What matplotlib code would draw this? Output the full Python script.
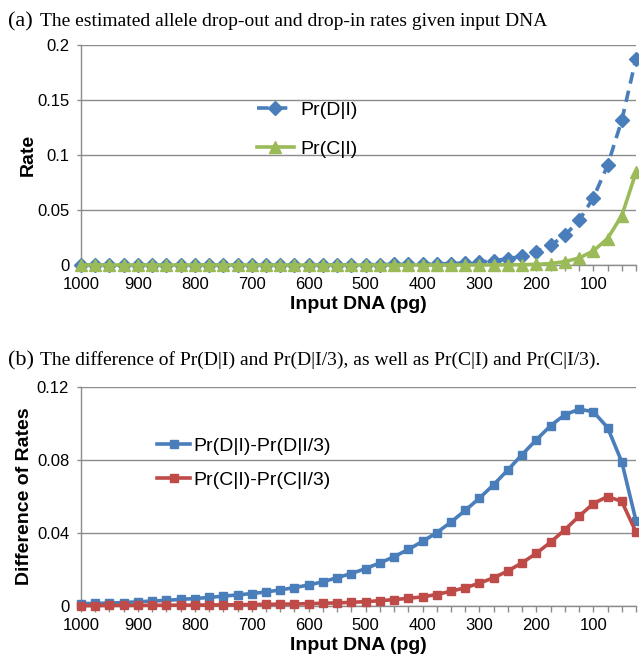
import matplotlib
matplotlib.use("Agg")
import matplotlib.pyplot as plt

plt.rcParams['font.family'] = ['Liberation Sans', 'DejaVu Sans']

input_dna = [1000, 975, 950, 925, 900, 875, 850, 825, 800, 775,
             750, 725, 700, 675, 650, 625, 600, 575, 550, 525,
             500, 475, 450, 425, 400, 375, 350, 325, 300, 275,
             250, 225, 200, 175, 150, 125, 100, 75, 50, 25]

pr_d = [0, 0, 0, 0, 0, 0, 0, 0, 0, 0,
        0, 0, 0, 0, 0.0001, 0.0001, 0.0001, 0.0001, 0.0002, 0.0002,
        0.0003, 0.0004, 0.0005, 0.0006, 0.0008, 0.001, 0.0013, 0.0018, 0.0025, 0.004,
        0.0056, 0.008, 0.0122, 0.0178, 0.027, 0.0405, 0.061, 0.0905, 0.1315, 0.1877]

pr_c = [0, 0, 0, 0, 0, 0, 0, 0, 0, 0,
        0, 0, 0, 0, 0, 0, 0, 0, 0, 0,
        0, 0, 0, 0, 0, 0, 0, 0, 0, 0.0001,
        0.0002, 0.0003, 0.0006, 0.0013, 0.0031, 0.0063, 0.0128, 0.0240, 0.0448, 0.0842]

diff_d = [0.0013, 0.0014, 0.0016, 0.0019, 0.0023, 0.0027, 0.0031, 0.0036, 0.0041, 0.0047,
          0.0054, 0.0061, 0.0068, 0.0077, 0.0088, 0.0101, 0.0115, 0.0133, 0.0155, 0.0178,
          0.0205, 0.0236, 0.0270, 0.0310, 0.0354, 0.0402, 0.0460, 0.0524, 0.0591, 0.0665,
          0.0746, 0.0830, 0.0911, 0.0988, 0.1048, 0.1078, 0.1065, 0.0978, 0.0790, 0.0467]

diff_c = [0.0002, 0.0002, 0.0003, 0.0003, 0.0003, 0.0004, 0.0004, 0.0005, 0.0005, 0.0006,
          0.0006, 0.0007, 0.0008, 0.0009, 0.0010, 0.0011, 0.0013, 0.0015, 0.0017, 0.0020,
          0.0024, 0.0029, 0.0035, 0.0042, 0.0050, 0.0063, 0.0081, 0.0100, 0.0125, 0.0155,
          0.0192, 0.0237, 0.0289, 0.0350, 0.0418, 0.0492, 0.0561, 0.0600, 0.0573, 0.0405]

BLUE = '#4A7EBB'
GREEN = '#9BBB59'
RED = '#BE4B48'
GRID = '#8C8C8C'

fig = plt.figure(figsize=(6.39, 6.62), dpi=100)
ax1 = fig.add_axes([81/639, 1-265/662, 555/639, 220/662])
ax2 = fig.add_axes([81/639, 1-606/662, 555/639, 219/662])

pos = list(range(len(input_dna)))
labels = [str(v) if v % 100 == 0 else '' for v in input_dna]


def style(ax, ylim, yticks, yticklabels, ylabel, ylabelpad):
    ax.set_xlim(0, len(input_dna) - 1)
    ax.set_ylim(*ylim)
    ax.set_yticks(yticks)
    ax.set_yticklabels(yticklabels)
    ax.set_xticks(pos)
    ax.set_xticklabels(labels)
    for s in ['top', 'right']:
        ax.spines[s].set_visible(False)
    for s in ['left', 'bottom']:
        ax.spines[s].set_color(GRID)
        ax.spines[s].set_linewidth(1.0)
    ax.tick_params(axis='x', direction='out', length=4, width=1, color=GRID,
                   labelsize=12, pad=4.5)
    ax.tick_params(axis='y', direction='out', length=3, width=1, color=GRID,
                   labelsize=12, pad=5.5)
    ax.yaxis.grid(True, color=GRID, linewidth=1.0)
    ax.set_axisbelow(True)
    ax.set_xlabel('Input DNA (pg)', fontsize=14, fontweight='bold', labelpad=3)
    ax.set_ylabel(ylabel, fontsize=14, fontweight='bold', labelpad=ylabelpad)


style(ax1, (0, 0.2), [0, 0.05, 0.1, 0.15, 0.2], ['0', '0.05', '0.1', '0.15', '0.2'], 'Rate', 0.5)
ax1.plot(pos, pr_d, color=BLUE, lw=2.6, ls=(0, (3.2, 2.0)), marker='D', ms=7.5,
         label='Pr(D|I)', clip_on=False, zorder=3)
ax1.plot(pos, pr_c, color=GREEN, lw=2.6, marker='^', ms=9,
         label='Pr(C|I)', clip_on=False, zorder=3)
ax1.legend(loc='upper left', bbox_to_anchor=(0.299, 0.79), frameon=False, fontsize=14,
           handlelength=1.9, handletextpad=0.36, labelspacing=1.12, borderpad=0)

style(ax2, (0, 0.12), [0, 0.04, 0.08, 0.12], ['0', '0.04', '0.08', '0.12'],
      'Difference of Rates', 2.5)
ax2.plot(pos, diff_d, color=BLUE, lw=2.6, marker='s', ms=6,
         label='Pr(D|I)-Pr(D|I/3)', clip_on=False, zorder=3)
ax2.plot(pos, diff_c, color=RED, lw=2.6, marker='s', ms=6,
         label='Pr(C|I)-Pr(C|I/3)', clip_on=False, zorder=3)
ax2.legend(loc='upper left', bbox_to_anchor=(0.12, 0.813), frameon=False, fontsize=14,
           handlelength=1.7, handletextpad=0.15, labelspacing=0.81, borderpad=0)

serif = ['Liberation Serif', 'DejaVu Serif']
fig.text(8/639, 1-26/662, '(a)', fontsize=16, family=serif, va='baseline')
fig.text(40/639, 1-26/662, 'The estimated allele drop-out and drop-in rates given input DNA',
         fontsize=14, family=serif, va='baseline')
fig.text(8/639, 1-365/662, '(b)', fontsize=16, family=serif, va='baseline')
fig.text(40/639, 1-365/662,
         'The difference of Pr(D|I) and Pr(D|I/3), as well as Pr(C|I) and Pr(C|I/3).',
         fontsize=14, family=serif, va='baseline')

fig.savefig('out.png', dpi=100)
